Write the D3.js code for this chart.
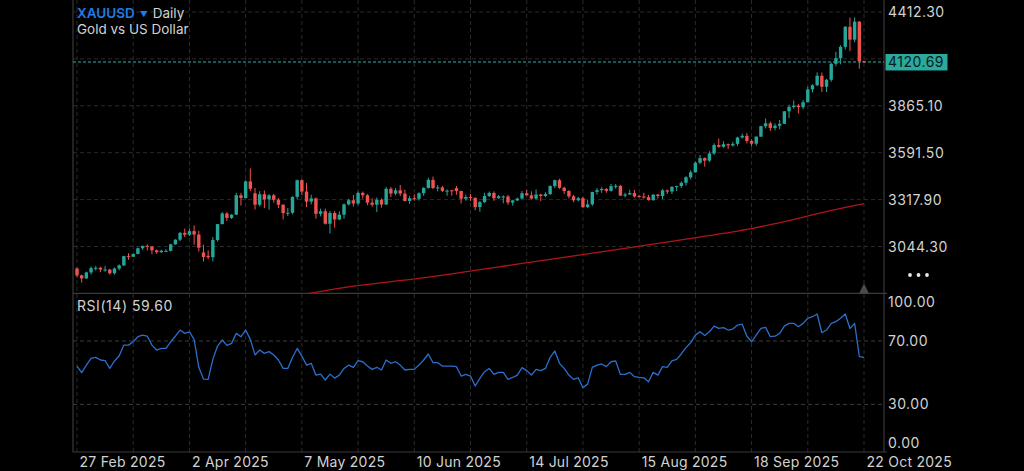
<!DOCTYPE html>
<html>
<head>
<meta charset="utf-8">
<script src="https://cdn.jsdelivr.net/npm/d3@7"></script>
<style>
body{margin:0;background:#000;overflow:hidden}
text{font-family:Inter,Roboto,"Noto Sans",sans-serif}
</style>
</head>
<body>
<div id="chart"></div>
<script>
// 日线数据 [日期, 开, 高, 低, 收]
var ohlc = [
["2025-02-27",2916,2921,2864,2876],["2025-02-28",2876,2881,2833,2858],["2025-03-03",2858,2898,2855,2893],
["2025-03-04",2893,2928,2880,2918],["2025-03-05",2918,2930,2904,2920],["2025-03-06",2920,2926,2894,2910],
["2025-03-07",2907,2930,2897,2910],["2025-03-10",2910,2914,2880,2888],["2025-03-11",2888,2922,2880,2916],
["2025-03-12",2916,2940,2905,2934],["2025-03-13",2934,2990,2930,2988],["2025-03-14",2988,3005,2967,2984],
["2025-03-17",2984,3002,2983,3001],["2025-03-18",3001,3038,2998,3034],["2025-03-19",3034,3049,3025,3048],
["2025-03-20",3048,3057,3021,3044],["2025-03-21",3044,3048,2999,3022],["2025-03-24",3022,3027,3001,3011],
["2025-03-25",3011,3025,3008,3020],["2025-03-26",3015,3029,3011,3019],["2025-03-27",3019,3060,3016,3057],
["2025-03-28",3057,3087,3055,3084],["2025-03-31",3084,3128,3076,3124],["2025-04-01",3124,3149,3100,3113],
["2025-04-02",3113,3149,3105,3134],["2025-04-03",3134,3167,3054,3114],["2025-04-04",3114,3135,3015,3037],
["2025-04-07",3010,3055,2957,2983],["2025-04-08",2990,3022,2970,2982],["2025-04-09",2982,3099,2957,3082],
["2025-04-10",3082,3176,3073,3175],["2025-04-11",3175,3245,3173,3237],["2025-04-14",3237,3245,3193,3211],
["2025-04-15",3211,3233,3205,3230],["2025-04-16",3230,3357,3228,3343],["2025-04-17",3343,3357,3283,3327],
["2025-04-21",3327,3430,3325,3424],["2025-04-22",3424,3500,3367,3381],["2025-04-23",3355,3386,3260,3288],
["2025-04-24",3288,3367,3278,3349],["2025-04-25",3349,3371,3268,3319],["2025-04-28",3319,3350,3260,3343],
["2025-04-29",3343,3352,3300,3317],["2025-04-30",3317,3328,3268,3288],["2025-05-01",3288,3290,3202,3239],
["2025-05-02",3239,3269,3222,3241],["2025-05-05",3241,3336,3232,3334],["2025-05-06",3334,3435,3320,3431],
["2025-05-07",3431,3437,3344,3365],["2025-05-08",3365,3414,3274,3306],["2025-05-09",3306,3346,3290,3325],
["2025-05-12",3325,3330,3207,3235],["2025-05-13",3235,3265,3220,3250],["2025-05-14",3250,3265,3172,3177],
["2025-05-15",3177,3252,3120,3240],["2025-05-16",3240,3252,3154,3202],["2025-05-19",3202,3249,3199,3230],
["2025-05-20",3230,3296,3206,3290],["2025-05-21",3290,3322,3284,3314],["2025-05-22",3314,3345,3278,3295],
["2025-05-23",3295,3366,3287,3357],["2025-05-26",3357,3365,3324,3343],["2025-05-27",3343,3350,3285,3300],
["2025-05-28",3300,3325,3276,3288],["2025-05-29",3288,3330,3245,3317],["2025-05-30",3317,3325,3271,3289],
["2025-06-02",3289,3392,3288,3381],["2025-06-03",3381,3392,3333,3353],["2025-06-04",3353,3385,3343,3372],
["2025-06-05",3372,3403,3339,3353],["2025-06-06",3353,3375,3306,3310],["2025-06-09",3310,3340,3292,3326],
["2025-06-10",3326,3349,3312,3323],["2025-06-11",3323,3360,3313,3355],["2025-06-12",3355,3390,3340,3386],
["2025-06-13",3386,3446,3382,3433],["2025-06-16",3433,3452,3380,3385],["2025-06-17",3385,3403,3366,3389],
["2025-06-18",3389,3398,3362,3369],["2025-06-19",3365,3378,3340,3370],["2025-06-20",3372,3375,3341,3368],
["2025-06-23",3385,3398,3347,3368],["2025-06-24",3368,3370,3295,3323],["2025-06-25",3323,3347,3312,3333],
["2025-06-26",3333,3350,3310,3328],["2025-06-27",3328,3331,3256,3274],["2025-06-30",3274,3310,3247,3303],
["2025-07-01",3303,3358,3298,3339],["2025-07-02",3339,3365,3333,3357],["2025-07-03",3357,3366,3311,3326],
["2025-07-04",3326,3345,3323,3337],["2025-07-07",3332,3343,3296,3336],["2025-07-08",3336,3345,3287,3301],
["2025-07-09",3301,3317,3283,3313],["2025-07-10",3313,3330,3310,3324],["2025-07-11",3324,3368,3322,3355],
["2025-07-14",3355,3375,3340,3343],["2025-07-15",3343,3366,3320,3324],["2025-07-16",3324,3377,3319,3347],
["2025-07-17",3347,3352,3310,3339],["2025-07-18",3339,3361,3333,3350],["2025-07-21",3350,3402,3345,3397],
["2025-07-22",3397,3434,3385,3431],["2025-07-23",3431,3439,3381,3387],["2025-07-24",3387,3393,3351,3368],
["2025-07-25",3368,3373,3325,3337],["2025-07-28",3337,3345,3302,3314],["2025-07-29",3314,3334,3307,3326],
["2025-07-30",3326,3334,3268,3274],["2025-07-31",3274,3315,3268,3290],["2025-08-01",3290,3363,3281,3363],
["2025-08-04",3363,3385,3347,3373],["2025-08-05",3373,3390,3357,3380],["2025-08-06",3380,3385,3358,3369],
["2025-08-07",3369,3409,3365,3396],["2025-08-08",3396,3409,3381,3398],["2025-08-11",3398,3404,3341,3341],
["2025-08-12",3341,3358,3331,3348],["2025-08-13",3348,3375,3345,3356],["2025-08-14",3356,3374,3330,3336],
["2025-08-15",3339,3346,3330,3336],["2025-08-18",3336,3358,3323,3332],["2025-08-19",3332,3345,3312,3315],
["2025-08-20",3315,3350,3311,3347],["2025-08-21",3347,3351,3324,3339],["2025-08-22",3339,3379,3321,3372],
["2025-08-25",3372,3376,3350,3365],["2025-08-26",3365,3394,3351,3393],["2025-08-27",3393,3398,3368,3397],
["2025-08-28",3397,3424,3385,3416],["2025-08-29",3416,3454,3400,3448],["2025-09-01",3448,3489,3436,3477],
["2025-09-02",3477,3540,3475,3533],["2025-09-03",3533,3578,3525,3560],["2025-09-04",3560,3564,3510,3545],
["2025-09-05",3545,3600,3537,3587],["2025-09-08",3587,3646,3578,3636],["2025-09-09",3636,3674,3620,3626],
["2025-09-10",3626,3658,3620,3641],["2025-09-11",3641,3645,3613,3634],["2025-09-12",3634,3655,3627,3643],
["2025-09-15",3643,3685,3631,3680],["2025-09-16",3680,3703,3674,3690],["2025-09-17",3690,3707,3646,3660],
["2025-09-18",3660,3670,3628,3644],["2025-09-19",3644,3687,3633,3685],["2025-09-22",3685,3749,3684,3746],
["2025-09-23",3746,3791,3733,3763],["2025-09-24",3763,3773,3718,3736],["2025-09-25",3736,3762,3722,3749],
["2025-09-26",3749,3782,3729,3760],["2025-09-29",3760,3834,3760,3833],["2025-09-30",3833,3871,3793,3858],
["2025-10-01",3858,3896,3848,3866],["2025-10-02",3866,3875,3820,3857],["2025-10-03",3857,3899,3845,3886],
["2025-10-06",3886,3977,3884,3961],["2025-10-07",3961,3991,3942,3985],["2025-10-08",3985,4060,3980,4040],
["2025-10-09",4040,4059,3946,3976],["2025-10-10",3976,4022,3945,4017],["2025-10-13",4017,4117,4005,4110],
["2025-10-14",4110,4180,4096,4143],["2025-10-15",4143,4218,4107,4209],["2025-10-16",4209,4330,4194,4326],
["2025-10-17",4326,4380,4185,4251],["2025-10-20",4251,4381,4236,4356],["2025-10-21",4356,4359,4082,4125],
["2025-10-22",4125,4128,4115,4120.69]
];

// RSI(14)
var rsi = [54.2,50.0,54.8,59.0,59.7,58.0,57.6,52.7,57.4,60.5,67.4,67.4,69.5,72.7,73.7,73.0,67.4,64.3,65.3,65.3,
69.5,73.0,76.9,74.8,75.8,71.0,53.4,46.0,45.8,58.4,66.8,70.6,67.2,68.5,74.8,72.7,76.9,71.0,61.2,64.3,
62.2,63.3,61.2,58.0,52.7,52.7,59.7,65.3,60.5,54.8,55.9,48.5,49.1,45.4,49.1,46.6,48.5,52.7,54.8,53.4,
57.6,56.9,54.2,52.1,53.4,51.7,58.0,55.9,56.9,54.8,51.7,52.1,52.1,54.8,58.0,61.8,56.3,56.3,54.2,54.2,
54.2,53.8,47.9,48.9,47.9,41.6,46.4,50.6,52.7,48.9,50.2,50.2,45.8,47.0,48.5,53.2,51.3,48.5,52.1,51.3,
52.7,59.7,63.7,55.9,52.7,48.5,45.8,46.8,40.5,42.8,53.4,54.8,55.5,53.8,56.9,57.4,48.9,48.9,50.2,47.5,
47.0,46.8,44.3,50.2,48.5,53.8,53.4,57.4,58.4,61.8,65.8,68.9,73.7,75.8,73.5,75.8,79.4,77.9,78.4,76.9,
77.5,80.0,80.6,73.0,69.5,73.7,77.9,78.6,72.7,73.0,74.8,79.4,81.1,81.1,79.0,81.1,84.3,85.3,87.0,75.2,
76.9,81.1,82.2,84.3,87.0,77.9,81.1,60.2,59.6];

// 200日均线 [日期, 值]
var maPoints = [["2025-05-07",2762],["2025-05-23",2822],["2025-06-11",2853],["2025-07-14",2951],
["2025-08-15",3044],["2025-08-29",3088],["2025-09-16",3136],["2025-09-24",3172],["2025-10-02",3208],
["2025-10-10",3250],["2025-10-22",3294]];

var priceTicks = [4412.30, 4138.70, 3865.10, 3591.50, 3317.90, 3044.30];
var rsiTicks = [100, 70, 30, 0];
var lastPrice = 4120.69;

var cfg = {
    width: 1024, height: 471,
    left: 73, right: 884,
    mainTop: 0, mainBottom: 293.4,
    rsiBottom: 452,
    up: '#26a69a', down: '#ef5350',
    grid: '#2b2b2b', border: '#3a3a3a', label: '#d2d2d2'
};

var parse = d3.timeParse("%Y-%m-%d"),
    fmt = d3.timeFormat("%-d %b %Y");
var index = {};
ohlc.forEach(function (d, i) { index[d[0]] = i; });

var x = d3.scaleLinear().domain([0, 168]).range([77, 864]);
var y = d3.scaleLinear().domain([3044.3, 4412.3]).range([246.5, 12]);
var yr = d3.scaleLinear().domain([0, 100]).range([cfg.rsiBottom, cfg.mainBottom]);

var svg = d3.select("#chart").append("svg")
    .attr("width", cfg.width).attr("height", cfg.height)
    .style("background", "#000");

var defs = svg.append("defs");
defs.append("clipPath").attr("id", "clipMain").append("rect")
    .attr("x", cfg.left).attr("y", cfg.mainTop)
    .attr("width", cfg.right - cfg.left).attr("height", cfg.mainBottom - cfg.mainTop);
defs.append("clipPath").attr("id", "clipRsi").append("rect")
    .attr("x", cfg.left).attr("y", cfg.mainBottom)
    .attr("width", cfg.right - cfg.left).attr("height", cfg.rsiBottom - cfg.mainBottom);

//网格
var gGrid = svg.append("g");
gGrid.selectAll("line.v").data(d3.range(0, ohlc.length, 12)).enter().append("line")
    .attr("x1", function (d) { return x(d); }).attr("x2", function (d) { return x(d); })
    .attr("y1", 0).attr("y2", cfg.rsiBottom + 2)
    .attr("stroke", cfg.grid).attr("stroke-dasharray", "4,3");
gGrid.selectAll("line.h").data(priceTicks).enter().append("line")
    .attr("x1", cfg.left).attr("x2", cfg.right)
    .attr("y1", function (d) { return y(d); }).attr("y2", function (d) { return y(d); })
    .attr("stroke", cfg.grid).attr("stroke-dasharray", "4,3");
gGrid.selectAll("line.r").data([70, 30]).enter().append("line")
    .attr("x1", cfg.left).attr("x2", cfg.right)
    .attr("y1", function (d) { return yr(d); }).attr("y2", function (d) { return yr(d); })
    .attr("stroke", "#3c3c3c").attr("stroke-dasharray", "4,3");

//边框
var gBorder = svg.append("g").attr("stroke", cfg.border).attr("stroke-width", 1.2);
gBorder.append("line").attr("x1", cfg.left).attr("x2", cfg.left).attr("y1", 0).attr("y2", cfg.rsiBottom);
gBorder.append("line").attr("x1", cfg.right).attr("x2", cfg.right).attr("y1", 0).attr("y2", cfg.rsiBottom);
gBorder.append("line").attr("x1", cfg.left).attr("x2", cfg.right + 3).attr("y1", cfg.mainBottom).attr("y2", cfg.mainBottom);
gBorder.append("line").attr("x1", cfg.left).attr("x2", cfg.right + 3).attr("y1", cfg.rsiBottom).attr("y2", cfg.rsiBottom);

//均线
var gMain = svg.append("g").attr("clip-path", "url(#clipMain)");
gMain.append("path")
    .datum(maPoints)
    .attr("fill", "none").attr("stroke", "#b0141a").attr("stroke-width", 1.3)
    .attr("d", d3.line()
        .x(function (d) { return x(index[d[0]]); })
        .y(function (d) { return y(d[1]); })
        .curve(d3.curveBasis));

//当前价格线
gMain.append("line")
    .attr("x1", cfg.left).attr("x2", cfg.right)
    .attr("y1", y(lastPrice)).attr("y2", y(lastPrice))
    .attr("stroke", "#2bb5a8").attr("stroke-width", 1).attr("stroke-dasharray", "3,2");

//K线
var candle = gMain.selectAll("g.candle").data(ohlc).enter().append("g")
    .attr("fill", function (d) { return d[4] >= d[1] ? cfg.up : cfg.down; })
    .attr("stroke", function (d) { return d[4] >= d[1] ? cfg.up : cfg.down; });
candle.append("line")
    .attr("x1", function (d, i) { return x(i); }).attr("x2", function (d, i) { return x(i); })
    .attr("y1", function (d) { return y(d[2]); }).attr("y2", function (d) { return y(d[3]); })
    .attr("stroke-width", 1);
candle.append("rect")
    .attr("stroke", "none")
    .attr("x", function (d, i) { return x(i) - 1.7; })
    .attr("width", 3.4)
    .attr("y", function (d) { return y(Math.max(d[1], d[4])); })
    .attr("height", function (d) { return Math.max(1, Math.abs(y(d[1]) - y(d[4]))); });

//RSI
svg.append("g").attr("clip-path", "url(#clipRsi)").append("path")
    .datum(rsi)
    .attr("fill", "none").attr("stroke", "#2a6fcb").attr("stroke-width", 1.3)
    .attr("stroke-linejoin", "round")
    .attr("d", d3.line().x(function (d, i) { return x(i); }).y(function (d) { return yr(d); }));

//价格刻度
var yLast = y(lastPrice);
svg.append("g").selectAll("text").data(priceTicks.filter(function (d) { return Math.abs(y(d) - yLast) > 14; }))
    .enter().append("text")
    .attr("x", 888).attr("y", function (d) { return y(d); }).attr("dy", "0.36em")
    .attr("fill", cfg.label).attr("font-size", 14).attr("letter-spacing", 0.5)
    .text(function (d) { return d.toFixed(2); });

svg.append("rect").attr("x", 885.5).attr("y", yLast - 8).attr("width", 62).attr("height", 16.5)
    .attr("fill", "#2aa99c");
svg.append("text").attr("x", 888).attr("y", yLast).attr("dy", "0.36em")
    .attr("fill", "#04201c").attr("font-size", 14).attr("letter-spacing", 0.5)
    .text(lastPrice.toFixed(2));

//RSI刻度
svg.append("g").selectAll("text").data(rsiTicks).enter().append("text")
    .attr("x", 888)
    .attr("y", function (d) { return Math.min(cfg.rsiBottom - 9, Math.max(cfg.mainBottom + 9, yr(d))); })
    .attr("dy", "0.36em")
    .attr("fill", cfg.label).attr("font-size", 14).attr("letter-spacing", 0.5)
    .text(function (d) { return d.toFixed(2); });

//日期刻度
svg.append("g").selectAll("text").data(d3.range(0, ohlc.length, 24)).enter().append("text")
    .attr("x", function (d) { return x(d) + 2.5; }).attr("y", 466.5)
    .attr("fill", cfg.label).attr("font-size", 14).attr("letter-spacing", 0.25)
    .text(function (d) { return fmt(parse(ohlc[d][0])); });

//标题
var title = svg.append("text").attr("x", 77).attr("y", 17.5).attr("font-size", 13.5);
title.append("tspan").attr("fill", "#1f7ae8").attr("font-weight", 600).text("XAUUSD");
title.append("tspan").attr("fill", "#1f7ae8").attr("font-size", 8).attr("dx", 5).attr("dy", -1).text("▼");
title.append("tspan").attr("fill", cfg.label).attr("dx", 5).attr("dy", 1).text("Daily");
svg.append("text").attr("x", 77).attr("y", 34).attr("font-size", 13.5)
    .attr("fill", cfg.label).text("Gold vs US Dollar");

svg.append("text").attr("x", 77).attr("y", 310.5).attr("font-size", 14)
    .attr("fill", cfg.label).attr("letter-spacing", 0.55)
    .text("RSI(14) " + rsi[rsi.length - 1].toFixed(2));

//右下角标记
svg.append("g").selectAll("circle").data([910, 918.5, 927]).enter().append("circle")
    .attr("cx", function (d) { return d; }).attr("cy", 275).attr("r", 1.9).attr("fill", "#e8e8e8");
svg.append("path")
    .attr("d", "M" + (x(168) - 5) + "," + cfg.mainBottom + "L" + x(168) + "," + (cfg.mainBottom - 10) + "L" + (x(168) + 5) + "," + cfg.mainBottom + "Z")
    .attr("fill", "#4a4a4a");
</script>
</body>
</html>
